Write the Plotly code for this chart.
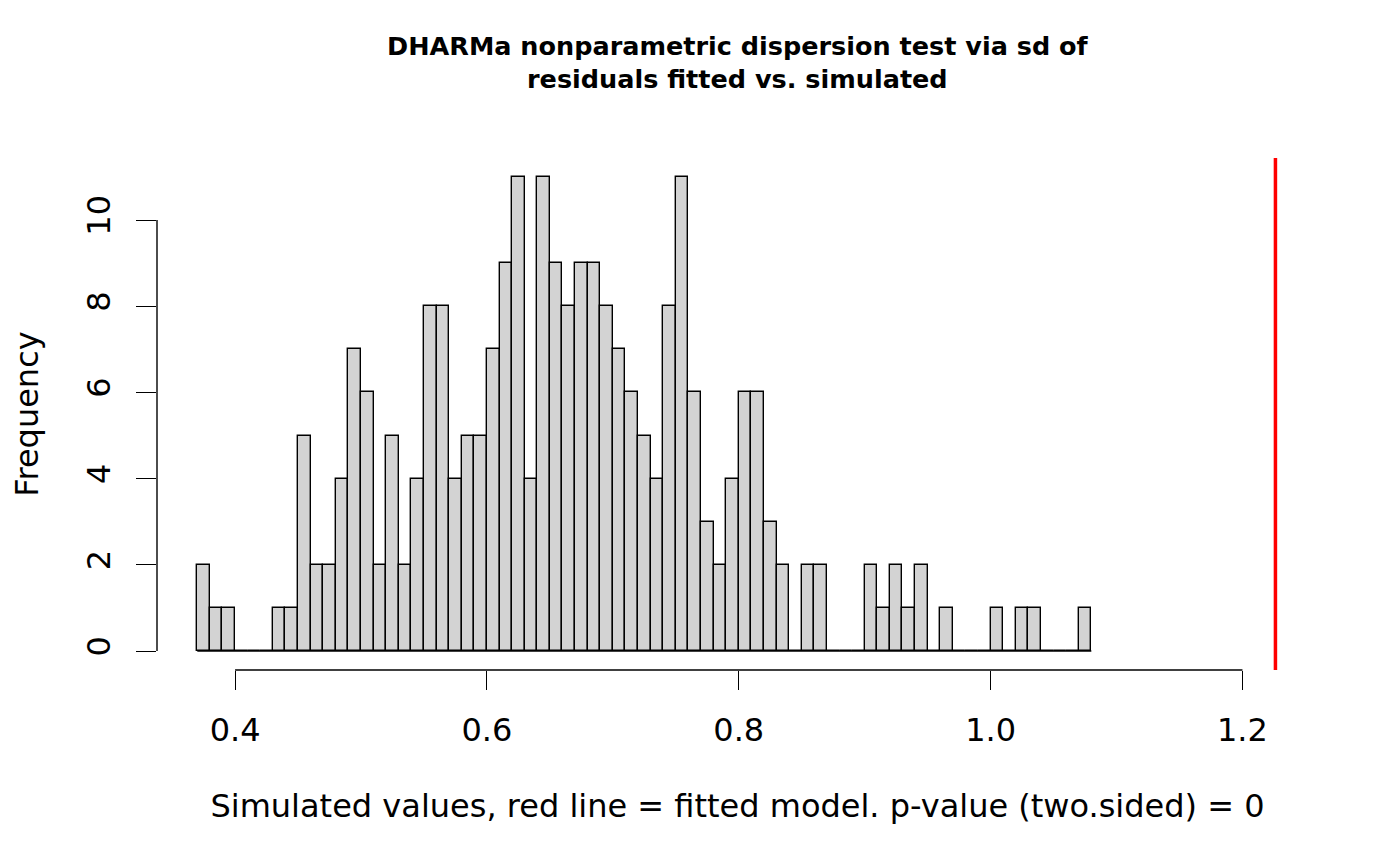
import plotly.graph_objects as go

# ---- data ----
bin_start = 0.37
bin_width = 0.01
counts = [2, 1, 1, 0, 0, 0, 1, 1, 5, 2,
          2, 4, 7, 6, 2, 5, 2, 4, 8, 8,
          4, 5, 5, 7, 9, 11, 4, 11, 9, 8,
          9, 9, 8, 7, 6, 5, 4, 8, 11, 6,
          3, 2, 4, 6, 6, 3, 2, 0, 2, 2,
          0, 0, 0, 2, 1, 2, 1, 2, 0, 1,
          0, 0, 0, 1, 0, 1, 1, 0, 0, 0,
          1]
observed = 1.2262
x_ticks = [0.4, 0.6, 0.8, 1.0, 1.2]
x_tick_labels = ["0.4", "0.6", "0.8", "1.0", "1.2"]
y_ticks = [0, 2, 4, 6, 8, 10]
y_tick_labels = ["0", "2", "4", "6", "8", "10"]
title_lines = ["DHARMa nonparametric dispersion test via sd of",
               "residuals fitted vs. simulated"]
x_title = "Simulated values, red line = fitted model. p-value (two.sided) = 0"
y_title = "Frequency"

centers = [bin_start + bin_width * (i + 0.5) for i in range(len(counts))]
left_edge = bin_start
right_edge = bin_start + bin_width * len(counts)

FONT = "DejaVu Sans"

fig = go.Figure()
# baseline of empty bins (zero-height rectangles in R)
fig.add_trace(go.Scatter(x=[left_edge, right_edge], y=[0, 0], mode="lines",
                         line=dict(color="black", width=1.4), hoverinfo="skip",
                         showlegend=False))
fig.add_trace(go.Bar(x=centers, y=counts, width=bin_width,
                     marker=dict(color="#D3D3D3", line=dict(color="black", width=1.4)),
                     showlegend=False))

# observed value
fig.add_shape(type="line", xref="x", yref="paper", x0=observed, x1=observed,
              y0=0, y1=1, line=dict(color="#FF0000", width=3.5))
# R-style axis lines spanning first to last tick
fig.add_shape(type="line", xref="x", yref="paper", x0=x_ticks[0], x1=x_ticks[-1],
              y0=0, y1=0, line=dict(color="black", width=1.4))
fig.add_shape(type="line", xref="paper", yref="y", x0=0, x1=0,
              y0=y_ticks[0], y1=y_ticks[-1], line=dict(color="black", width=1.4))

fig.add_annotation(text="<br>".join("<b>" + t + "</b>" for t in title_lines),
                   xref="paper", yref="paper", x=0.5, y=1, yshift=62,
                   showarrow=False, xanchor="center", yanchor="bottom",
                   font=dict(family=FONT, size=25.5, color="black"))

fig.update_layout(
    width=1392, height=858,
    margin=dict(l=149, r=82, t=150, b=196, pad=0),
    paper_bgcolor="white", plot_bgcolor="white",
    bargap=0,
    font=dict(family=FONT, size=32, color="black"),
    xaxis=dict(range=[0.338, 1.26], showgrid=False, zeroline=False, showline=False,
               tickmode="array", tickvals=x_ticks, ticktext=x_tick_labels,
               ticks="outside", ticklen=19, tickwidth=1.4, tickcolor="black",
               ticklabelstandoff=13,
               title=dict(text=x_title, standoff=46, font=dict(size=32))),
    yaxis=dict(range=[-0.44, 11.44], showgrid=False, zeroline=False, showline=False,
               tickmode="array", tickvals=y_ticks, ticktext=y_tick_labels,
               ticks="outside", ticklen=20, tickwidth=1.4, tickcolor="black",
               tickangle=-90, ticklabelstandoff=13,
               title=dict(text=y_title, standoff=34, font=dict(size=32))),
)

fig.write_html("out.html")
